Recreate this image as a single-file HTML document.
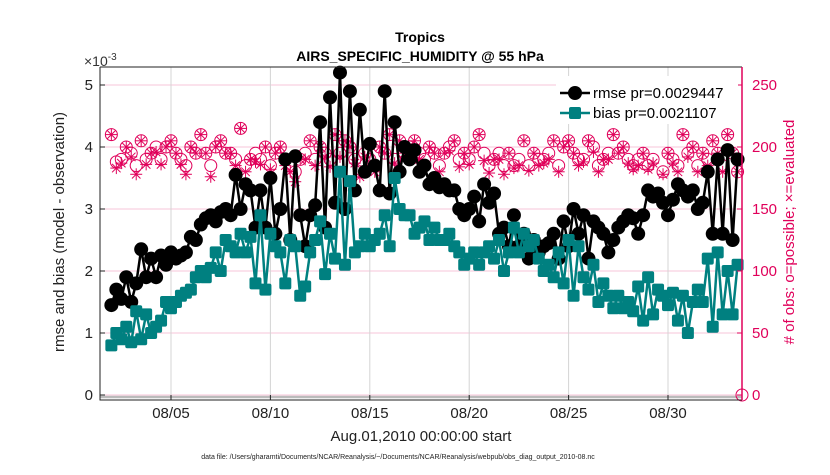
<!DOCTYPE html>
<html><head><meta charset="utf-8"><style>
body{margin:0;background:#fff;font-family:"Liberation Sans",sans-serif}
svg text{font-family:"Liberation Sans",sans-serif}
</style></head><body>
<svg id="chart" width="830" height="470" xmlns="http://www.w3.org/2000/svg">
<rect width="830" height="470" fill="#fff"/>
<g id="grid"></g><g id="marks"></g><g id="axes"></g>
<text x="420" y="42" text-anchor="middle" font-size="14" font-weight="bold">Tropics</text>
<text x="420" y="61" text-anchor="middle" font-size="14" font-weight="bold">AIRS_SPECIFIC_HUMIDITY @ 55 hPa</text>
<text x="84" y="66" font-size="14" fill="#333">×10<tspan font-size="10" dy="-6">-3</tspan></text>
<text x="421" y="441" text-anchor="middle" font-size="15" fill="#222">Aug.01,2010 00:00:00 start</text>
<text x="398" y="459" text-anchor="middle" font-size="7" fill="#222">data file: /Users/gharamti/Documents/NCAR/Reanalysis/~/Documents/NCAR/Reanalysis/webpub/obs_diag_output_2010-08.nc</text>
<text transform="translate(64,232) rotate(-90)" text-anchor="middle" font-size="15" fill="#222">rmse and bias (model - observation)</text>
<text transform="translate(794,232) rotate(-90)" text-anchor="middle" font-size="15" fill="#e0005a"># of obs: o=possible; ×=evaluated</text>
<g>
<rect x="556" y="76" width="182" height="48" fill="#fff"/>
<line x1="560" y1="93" x2="590" y2="93" stroke="#000" stroke-width="2.5"/><circle cx="575" cy="93" r="7" fill="#000"/>
<text x="593" y="98" font-size="15">rmse pr=0.0029447</text>
<line x1="560" y1="113" x2="590" y2="113" stroke="#008080" stroke-width="2.5"/><rect x="569" y="107" width="12" height="12" rx="2" fill="#008080"/>
<text x="593" y="118" font-size="15">bias pr=0.0021107</text>
</g>
</svg>
<script>
const rmse=[1.45,1.7,1.55,1.9,1.5,1.8,2.35,1.9,2.2,1.9,2.25,2.1,2.3,2.2,2.25,2.3,2.55,2.5,2.75,2.85,2.9,2.8,2.95,3.0,2.9,3.55,3.0,3.4,3.3,2.7,3.3,2.7,3.5,2.6,3.0,3.8,2.5,3.85,2.9,
2.4,2.9,3.06,4.4,2.7,4.8,3.1,5.2,3.0,4.9,3.3,4.6,3.6,4.05,3.7,3.3,4.9,3.25,4.4,3.6,4.0,3.8,3.95,3.6,3.7,3.4,3.5,3.35,3.4,3.3,3.3,3.0,2.9,3.0,3.2,2.8,3.4,3.1,3.25,2.6,2.7,2.4,
2.9,2.4,2.6,2.2,2.5,2.3,2.4,2.45,2.6,2.2,2.8,2.4,3.0,2.6,2.9,2.2,2.8,2.7,2.6,2.3,2.5,2.7,2.8,2.9,2.85,2.6,2.9,3.3,3.2,3.25,3.1,2.9,3.15,3.4,3.3,3.2,3.3,3.0,3.1,3.6,2.6,3.8,2.6,3.95,2.5,3.8];
const bias=[0.8,1.0,0.9,1.1,0.85,1.35,0.9,1.3,1.0,1.1,1.2,1.5,1.4,1.5,1.6,1.65,1.7,1.9,2.0,1.9,2.05,2.3,2.0,2.5,2.4,2.3,2.6,2.3,2.55,1.8,2.9,1.7,2.6,2.4,2.3,1.8,2.5,2.4,1.6,
1.75,2.3,2.5,2.8,1.95,2.6,2.2,3.6,2.1,3.45,2.3,2.4,2.6,2.4,2.5,2.6,2.9,2.4,3.5,3.0,2.9,2.9,2.6,2.7,2.8,2.5,2.7,2.5,2.5,2.6,2.4,2.3,2.1,2.2,2.3,2.1,2.3,2.4,2.2,2.5,2.0,2.3,
2.7,2.3,2.6,2.4,2.5,2.2,2.0,2.1,1.9,2.3,1.8,2.5,1.6,2.4,1.9,1.7,2.1,1.5,1.8,1.6,1.4,1.6,1.4,1.5,1.35,1.75,1.2,1.9,1.3,1.7,1.6,1.45,1.65,1.2,1.6,1.0,1.5,1.7,1.5,2.2,1.1,2.3,1.3,2.0,1.3,2.1];
const possible=[210,188,190,200,195,185,205,190,195,200,190,200,205,195,190,185,200,195,210,195,185,200,205,195,195,190,215,185,190,195,190,200,185,195,200,190,185,180,190,195,205,190,200,195,190,210,195,205,200,190,180,195,190,185,200,195,210,190,205,195,200,205,195,190,200,195,185,195,200,205,190,195,190,200,210,195,185,190,195,185,195,185,190,205,185,195,190,190,195,205,185,200,205,195,190,190,205,200,185,190,195,210,195,200,190,185,190,195,185,190,160,180,195,190,185,210,195,200,185,195,190,205,195,185,210,195,180];
const evaluated=[210,183,187,200,192,178,205,186,195,196,186,200,205,195,186,178,200,195,210,195,176,200,205,195,195,185,215,180,190,188,186,200,182,195,200,185,180,172,190,190,205,185,200,192,184,210,192,205,200,187,176,192,187,180,200,195,210,187,205,195,197,205,190,185,200,195,180,195,197,205,184,195,186,200,210,189,179,190,190,178,195,183,185,205,181,195,185,187,190,205,180,200,205,195,185,188,205,196,180,190,190,210,195,200,187,182,185,195,182,187,160,178,195,187,180,210,192,200,180,195,185,205,195,180,210,195,180];
const xTickLabels=["08/05","08/10","08/15","08/20","08/25","08/30"];
const xTickDays=[5,10,15,20,25,30];
const yTicks=[0,1,2,3,4,5];
const y2Ticks=[0,50,100,150,200,250];
const startDay=2, stepDay=0.25;

const NS="http://www.w3.org/2000/svg";
const X0=100,X1=742,Y0=67,Y1=400;
const xS=d=>171+(d-5)*19.88;
const yS=v=>395-v*62;
const y2S=v=>395-v*(62/50);
function mk(p,tag,attrs){const e=document.createElementNS(NS,tag);for(const k in attrs)e.setAttribute(k,attrs[k]);p.appendChild(e);return e;}
const grid=document.getElementById('grid'),marks=document.getElementById('marks'),axes=document.getElementById('axes');
mk(grid,'rect',{x:X0,y:Y0,width:X1-X0,height:Y1-Y0,fill:'#fff'});
y2Ticks.forEach(v=>{const l=mk(grid,'line',{x1:X0,x2:X1,y1:y2S(v),y2:y2S(v),stroke:'#f7c6d9','stroke-width':1});

});
xTickDays.forEach(d=>{const l=mk(grid,'line',{x1:xS(d),x2:xS(d),y1:Y0,y2:Y1,stroke:'#d4d4d4','stroke-width':1});

});
const zl=mk(grid,'line',{x1:X0,x2:X1,y1:397,y2:397,stroke:'#bbb','stroke-width':2.5});


const dx=i=>xS(startDay+i*stepDay);
possible.forEach((v,i)=>{const c=mk(marks,'circle',{cx:dx(i),cy:y2S(v),r:6,fill:'none',stroke:'#e0005a','stroke-width':1});

});
evaluated.forEach((v,i)=>{const x=dx(i),y=y2S(v),g=mk(marks,'g',{stroke:'#e0005a','stroke-width':1});


for(let a=0;a<180;a+=45){const r=a*Math.PI/180;mk(g,'line',{x1:x-6*Math.cos(r),y1:y-6*Math.sin(r),x2:x+6*Math.cos(r),y2:y+6*Math.sin(r)});}});
const lz=mk(marks,'circle',{cx:X1,cy:y2S(0),r:6,fill:'none',stroke:'#e0005a'});


function series(arr,col,name,sq){
 const pl=mk(marks,'polyline',{points:arr.map((v,i)=>dx(i)+','+yS(v)).join(' '),fill:'none',stroke:col,'stroke-width':2.5});
 
 
 arr.forEach((v,i)=>{let e;
  if(sq)e=mk(marks,'rect',{x:dx(i)-6,y:yS(v)-6,width:12,height:12,rx:2,fill:col});
  else e=mk(marks,'circle',{cx:dx(i),cy:yS(v),r:7,fill:col});
  
  });
}
series(rmse,'#000','rmse',false);
series(bias,'#008080','bias',true);
const ab=mk(axes,'path',{d:`M${X0},${Y0}H${X1}M${X0},${Y0}V${Y1}H${X1}`,fill:'none',stroke:'#222','stroke-width':1});


const ra=mk(axes,'line',{x1:X1,x2:X1,y1:Y0,y2:Y1,stroke:'#e0005a','stroke-width':1.5});


yTicks.forEach(v=>{const t=mk(axes,'text',{x:93,y:yS(v)+5,'text-anchor':'end','font-size':15,fill:'#222'});t.textContent=v;


mk(axes,'line',{x1:X0,x2:X0+5,y1:yS(v),y2:yS(v),stroke:'#222'});});
y2Ticks.forEach(v=>{const t=mk(axes,'text',{x:752,y:y2S(v)+5,'font-size':15,fill:'#e0005a'});t.textContent=v;


mk(axes,'line',{x1:X1-5,x2:X1,y1:y2S(v),y2:y2S(v),stroke:'#e0005a'});});
xTickDays.forEach((d,i)=>{const t=mk(axes,'text',{x:xS(d),y:418,'text-anchor':'middle','font-size':15,fill:'#222'});t.textContent=xTickLabels[i];


mk(axes,'line',{x1:xS(d),x2:xS(d),y1:Y1,y2:Y1-5,stroke:'#222'});});
</script>
</body></html>
